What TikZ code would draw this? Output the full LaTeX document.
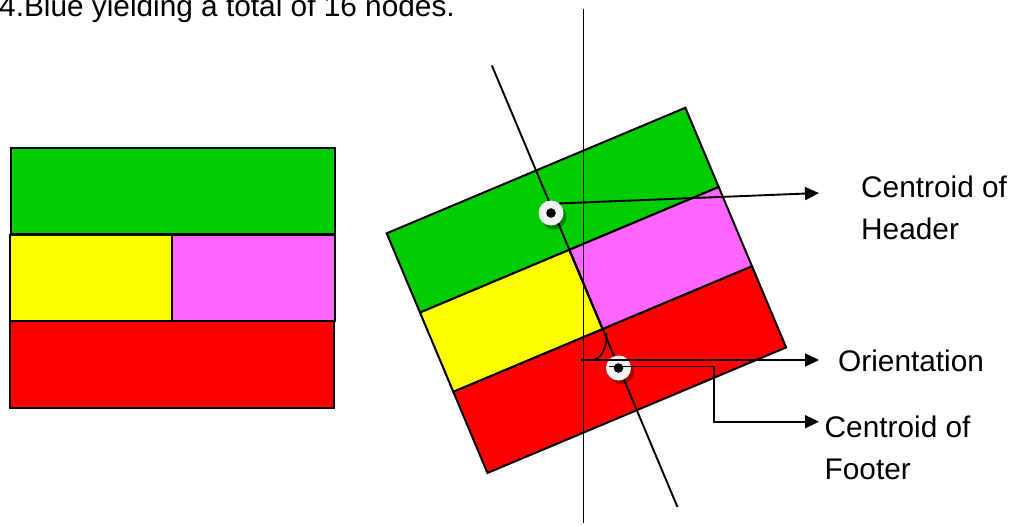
\documentclass[tikz,border=0pt]{standalone}
\usepackage{fontspec}
\setmainfont{Liberation Sans}
\usetikzlibrary{arrows.meta,shadows}
\definecolor{hgreen}{RGB}{0,204,0}
\definecolor{hyellow}{RGB}{255,255,0}
\definecolor{hmagenta}{RGB}{255,102,255}
\definecolor{hred}{RGB}{255,0,0}
\definecolor{markfill}{RGB}{242,242,242}
\begin{document}
\begin{tikzpicture}[x=1pt,y=-1pt,
  block/.style={draw=black,line width=2pt},
  axisline/.style={draw=black,line width=1.9pt},
  arr/.style={draw=black,line width=1.9pt,-{Triangle[length=14pt,width=13pt]}},
  marker/.style={circle,fill=markfill,minimum size=25pt,inner sep=0pt,
    drop shadow={shadow xshift=3pt,shadow yshift=-4pt,opacity=0.35,fill=black}},
  dot/.style={fill=black},
  lbl/.style={inner sep=0pt,anchor=base west,font=\fontsize{29.8}{41.7}\selectfont}]
\useasboundingbox (0,0) rectangle (1016,525);

% title
\node[lbl] (title) at (-1,16.7) {4.Blue yielding a total of 16 nodes.};

% left layout
\draw[block,fill=hgreen]   (11,148) rectangle (335,234);
\draw[block,fill=hyellow]  (10,235) rectangle (172,321);
\draw[block,fill=hmagenta] (172,235) rectangle (335,321);
\draw[block,fill=hred]     (10,321) rectangle (334,408);

% rotated layout
\begin{scope}[shift={(386.7,233.3)},rotate=22.8]
  \draw[block,fill=hgreen]   (0,0) rectangle (324,86);
  \draw[block,fill=hyellow]  (0,86) rectangle (162,172);
  \draw[block,fill=hmagenta] (162,86) rectangle (324,172);
  \draw[block,fill=hred]     (0,172) rectangle (324,260);
  \coordinate (tiltA) at (162,-114);
  \coordinate (tiltB) at (162,365);
\end{scope}
\draw[axisline] (tiltA) -- (tiltB);
\coordinate (vertA) at (583.5,8.7);
\coordinate (vertB) at (583.5,523);
\draw[axisline] (vertA) -- (vertB);

% orientation angle arc
\coordinate (arcA) at (606.7,333.3);
\coordinate (arcB) at (591.7,360);
\draw[black,line width=1.5pt] (arcA) .. controls (606.7,350) and (600,360) .. (arcB);

% centroid markers
\node[marker] (hc) at (551,213) {};
\fill[dot] (hc.center) circle (4.8);
\node[marker] (fc) at (618.5,368) {};
\fill[dot] (fc.center) circle (4.8);

% labels
\node[lbl] (lh) at (861,197.3) {\begin{tabular}[t]{@{}l@{}}Centroid of\\Header\end{tabular}};
\node[lbl] (lo) at (838,371.7) {Orientation};
\node[lbl] (lf) at (824.5,437.3) {\begin{tabular}[t]{@{}l@{}}Centroid of\\Footer\end{tabular}};

% connectors
\coordinate (hEnd) at (819,193);
\draw[arr] (hc.49) -- (hEnd);
\coordinate (oStart) at (580.7,360);
\coordinate (oEnd) at (819,360);
\draw[arr] (oStart) -- (oEnd);
\coordinate (fStart) at (609,366.5);
\coordinate (fBend) at (714.3,421.7);
\coordinate (fEnd) at (819,421.7);
\draw[arr] (fStart) -| (fBend) -- (fEnd);
\end{tikzpicture}
\end{document}
